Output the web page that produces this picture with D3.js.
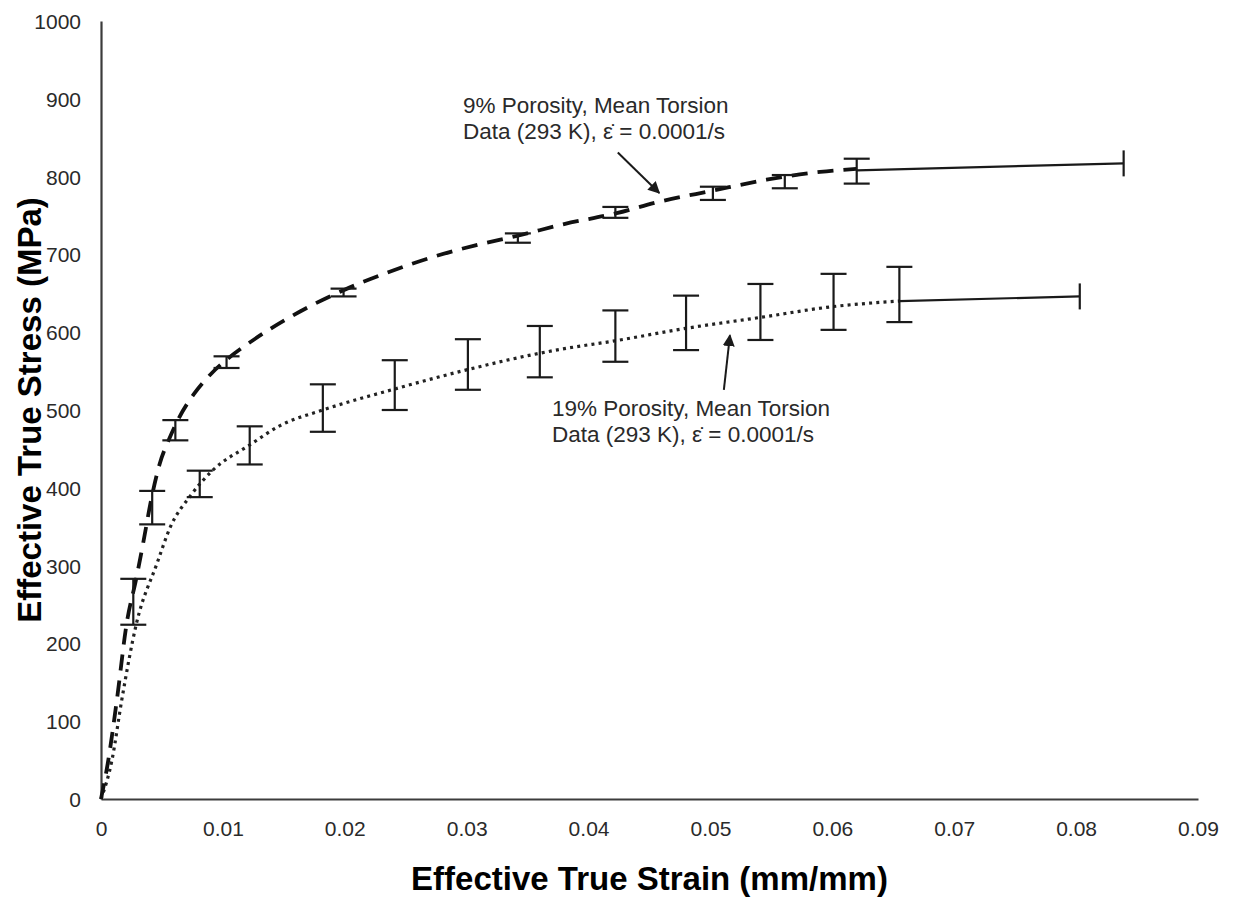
<!DOCTYPE html>
<html>
<head>
<meta charset="utf-8">
<script src="https://cdn.jsdelivr.net/npm/d3@7/dist/d3.min.js"></script>
<style>
  html, body { margin: 0; padding: 0; background: #fff; }
  svg { display: block; }
  text { font-family: "Liberation Sans", Arial, sans-serif; }
</style>
</head>
<body>
<svg id="chart" width="1236" height="897"></svg>
<script>
// Axis ticks
const xTicks = [0, 0.01, 0.02, 0.03, 0.04, 0.05, 0.06, 0.07, 0.08, 0.09];
const xTickLabels = ["0", "0.01", "0.02", "0.03", "0.04", "0.05", "0.06", "0.07", "0.08", "0.09"];
const yTicks = [0, 100, 200, 300, 400, 500, 600, 700, 800, 900, 1000];
const yTickLabels = ["0", "100", "200", "300", "400", "500", "600", "700", "800", "900", "1000"];

// 9% porosity mean torsion curve (strain, MPa)
const strain9 = [0, 0.0006, 0.0013, 0.0021, 0.0029, 0.0034, 0.0042, 0.0048, 0.0056, 0.0064, 0.0076, 0.0090, 0.0104, 0.0125, 0.0171, 0.0199, 0.0234, 0.0273, 0.0308, 0.0342, 0.0380, 0.0423, 0.0456, 0.0502, 0.0546, 0.0590, 0.0620];
const stress9 = [0, 50, 127, 225, 284, 324, 391, 430, 463, 490, 520, 546, 566, 590, 633, 654, 676, 697, 712, 724, 739, 753, 767, 782, 796, 806, 810];

// 9% porosity scatter (min / max stress)
const errStrain9 = [0.00265, 0.0042, 0.0061, 0.0103, 0.0199, 0.0342, 0.0422, 0.0502, 0.0561, 0.0620];
const errLow9 = [224, 353, 461, 554, 646, 715, 747, 770, 785, 791];
const errHigh9 = [283, 396, 487, 569, 656, 727, 761, 787, 802, 823];

// 9% porosity failure strain scatter
const failStrain9 = [0.0620, 0.0839];
const failStress9 = [808, 817];

// 19% porosity mean torsion curve (strain, MPa)
const strain19 = [0, 0.0009, 0.0017, 0.0029, 0.0046, 0.0057, 0.0073, 0.0092, 0.0122, 0.0147, 0.0182, 0.0241, 0.0301, 0.0360, 0.0377, 0.0422, 0.0480, 0.0541, 0.0601, 0.0655];
const stress19 = [0, 50, 127, 225, 303, 350, 389, 423, 455, 480, 500, 527, 552, 573, 578, 589, 605, 619, 633, 640];

// 19% porosity scatter (min / max stress)
const errStrain19 = [0.0081, 0.0122, 0.0182, 0.0241, 0.0301, 0.0360, 0.0422, 0.0480, 0.0541, 0.0601, 0.0655];
const errLow19 = [388, 430, 472, 500, 526, 542, 562, 577, 590, 603, 613];
const errHigh19 = [422, 479, 533, 564, 591, 608, 628, 647, 662, 675, 684];

// 19% porosity failure strain scatter
const failStrain19 = [0.0655, 0.0803];
const failStress19 = [640, 646];

// Callout labels
const label9 = ["9% Porosity, Mean Torsion", "Data (293 K), \u03B5\u0307 = 0.0001/s"];
const label19 = ["19% Porosity, Mean Torsion", "Data (293 K), \u03B5\u0307 = 0.0001/s"];

const svg = d3.select("#chart");
const plotLeft = 101, plotRight = 1198, plotTop = 21, plotBottom = 799;

const x = d3.scaleLinear().domain([0, 0.09]).range([plotLeft, plotRight]);
const y = d3.scaleLinear().domain([0, 1000]).range([plotBottom, plotTop]);

const ink = "#1a1a1a";

// Axes
const xAxis = d3.axisBottom(x).tickValues(xTicks).tickSize(0).tickPadding(22)
  .tickFormat((d, i) => xTickLabels[i]);
const yAxis = d3.axisLeft(y).tickValues(yTicks).tickSize(0).tickPadding(20)
  .tickFormat((d, i) => yTickLabels[i]);

const gx = svg.append("g").attr("transform", `translate(0,${plotBottom})`).call(xAxis);
const gy = svg.append("g").attr("transform", `translate(${plotLeft},0)`).call(yAxis);
[gx, gy].forEach(g => {
  g.select(".domain").attr("stroke", "#3c3c3c").attr("stroke-width", 2.2);
  g.selectAll("text").attr("font-size", 21).attr("fill", "#2a2a2a")
    .attr("font-family", "'Liberation Sans', Arial, sans-serif");
});
gy.selectAll("text").attr("dy", "0.36em");

// Axis titles
svg.append("text")
  .attr("x", (plotLeft + plotRight) / 2).attr("y", 890)
  .attr("text-anchor", "middle").attr("font-size", 33).attr("font-weight", "bold")
  .attr("fill", "#000").text("Effective True Strain (mm/mm)");
svg.append("text")
  .attr("transform", `translate(41,${(plotTop + plotBottom) / 2}) rotate(-90)`)
  .attr("text-anchor", "middle").attr("font-size", 33).attr("font-weight", "bold")
  .attr("fill", "#000").text("Effective True Stress (MPa)");

const line = d3.line().x(d => x(d[0])).y(d => y(d[1])).curve(d3.curveMonotoneX);

// 19% curve (dotted)
svg.append("path")
  .datum(strain19.map((s, i) => [s, stress19[i]]))
  .attr("d", line).attr("fill", "none").attr("stroke", "#222")
  .attr("stroke-width", 3.2).attr("stroke-dasharray", "3,4.2");

// 9% curve (dashed)
svg.append("path")
  .datum(strain9.map((s, i) => [s, stress9[i]]))
  .attr("d", line).attr("fill", "none").attr("stroke", "#111")
  .attr("stroke-width", 3.8).attr("stroke-dasharray", "16,10");

// Vertical error bars
const cap = 13;
function drawErrorBars(xs, lo, hi) {
  const g = svg.append("g").attr("stroke", ink).attr("stroke-width", 2.2).attr("fill", "none");
  xs.forEach((s, i) => {
    const px = x(s);
    g.append("line").attr("x1", px).attr("x2", px).attr("y1", y(lo[i])).attr("y2", y(hi[i]));
    g.append("line").attr("x1", px - cap).attr("x2", px + cap).attr("y1", y(lo[i])).attr("y2", y(lo[i]));
    g.append("line").attr("x1", px - cap).attr("x2", px + cap).attr("y1", y(hi[i])).attr("y2", y(hi[i]));
  });
}
drawErrorBars(errStrain9, errLow9, errHigh9);
drawErrorBars(errStrain19, errLow19, errHigh19);

// Failure strain scatter bars
function drawFail(xs, ys) {
  const g = svg.append("g").attr("stroke", ink).attr("stroke-width", 2.2).attr("fill", "none");
  g.append("line").attr("x1", x(xs[0])).attr("y1", y(ys[0])).attr("x2", x(xs[1])).attr("y2", y(ys[1]));
  g.append("line").attr("x1", x(xs[1])).attr("x2", x(xs[1]))
    .attr("y1", y(ys[1]) - cap).attr("y2", y(ys[1]) + cap);
}
drawFail(failStrain9, failStress9);
drawFail(failStrain19, failStress19);

// Arrow marker
svg.append("defs").append("marker")
  .attr("id", "arrow").attr("viewBox", "0 0 10 10").attr("refX", 9).attr("refY", 5)
  .attr("markerWidth", 6).attr("markerHeight", 6).attr("markerUnits", "strokeWidth")
  .attr("orient", "auto")
  .append("path").attr("d", "M0,0 L10,5 L0,10 z").attr("fill", ink);

// Callouts
function callout(lines, lx, ly, ax1, ay1, ax2, ay2) {
  const t = svg.append("text").attr("x", x(lx)).attr("y", y(ly))
    .attr("font-size", 22.5).attr("fill", "#2a2a2a");
  lines.forEach((s, i) => {
    t.append("tspan").attr("x", x(lx)).attr("dy", i === 0 ? 0 : 26).text(s);
  });
  svg.append("line").attr("x1", x(ax1)).attr("y1", y(ay1)).attr("x2", x(ax2)).attr("y2", y(ay2))
    .attr("stroke", ink).attr("stroke-width", 2).attr("marker-end", "url(#arrow)");
}
callout(label9, 0.0297, 882, 0.0424, 831, 0.0458, 779);
callout(label19, 0.0370, 492, 0.0511, 526, 0.0516, 596);
</script>
</body>
</html>
